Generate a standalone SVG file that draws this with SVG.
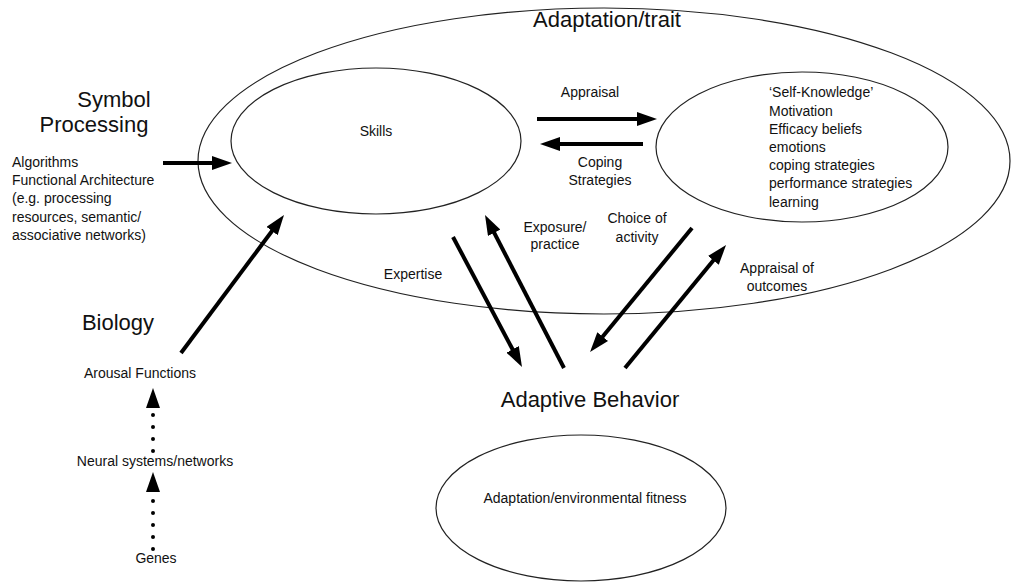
<svg xmlns="http://www.w3.org/2000/svg" width="1018" height="582" viewBox="0 0 1018 582">
<style>
text{font-family:"Liberation Sans",Arial,sans-serif;fill:#111}
.s{font-size:14px}
.l{font-size:22px}
.e{fill:none;stroke:#222;stroke-width:1.2}
.a{stroke:#000;stroke-width:4;fill:none}
.d{stroke:#000;stroke-width:4;fill:none;stroke-dasharray:0 12;stroke-linecap:round}
</style>
<defs>
<marker id="h" viewBox="0 0 20 14" refX="10" refY="7" markerWidth="20" markerHeight="14" markerUnits="userSpaceOnUse" orient="auto">
<path d="M0,0 L20,7 L0,14 Z" fill="#000"/>
</marker>
</defs>
<rect width="1018" height="582" fill="#fff"/>
<g id="adaptation-trait">
<ellipse class="e" cx="604" cy="161" rx="406" ry="153"/>
<text class="l" x="607" y="27" text-anchor="middle">Adaptation/trait</text>
</g>
<g id="skills">
<ellipse class="e" cx="376" cy="141" rx="145" ry="73"/>
<text class="s" x="376" y="136" text-anchor="middle">Skills</text>
</g>
<g id="self-knowledge">
<ellipse class="e" cx="802" cy="147" rx="146" ry="75"/>
<text class="s" x="769" y="97">‘Self-Knowledge’</text>
<text class="s" x="769" y="116">Motivation</text>
<text class="s" x="769" y="134">Efficacy beliefs</text>
<text class="s" x="769" y="152">emotions</text>
<text class="s" x="769" y="170">coping strategies</text>
<text class="s" x="769" y="188">performance strategies</text>
<text class="s" x="769" y="207">learning</text>
</g>
<g id="symbol-processing">
<text class="l" x="114" y="107" text-anchor="middle">Symbol</text>
<text class="l" x="94" y="132" text-anchor="middle">Processing</text>
<text class="s" x="12" y="167">Algorithms</text>
<text class="s" x="12" y="185">Functional Architecture</text>
<text class="s" x="12" y="203">(e.g. processing</text>
<text class="s" x="12" y="222">resources, semantic/</text>
<text class="s" x="12" y="240">associative networks)</text>
</g>
<g id="biology">
<text class="l" x="118" y="330" text-anchor="middle">Biology</text>
</g>
<g id="arousal">
<text class="s" x="140" y="378" text-anchor="middle">Arousal Functions</text>
</g>
<g id="neural">
<text class="s" x="155" y="466" text-anchor="middle">Neural systems/networks</text>
</g>
<g id="genes">
<text class="s" x="156" y="563" text-anchor="middle">Genes</text>
</g>
<g id="adaptive-behavior">
<text class="l" x="590" y="407" text-anchor="middle">Adaptive Behavior</text>
</g>
<g id="fitness">
<ellipse class="e" cx="581" cy="508" rx="145" ry="73"/>
<text class="s" x="585" y="503" text-anchor="middle">Adaptation/environmental fitness</text>
</g>
<g id="connectors">
<line class="a" x1="163" y1="163" x2="222" y2="163" marker-end="url(#h)"/>
<line class="a" x1="537" y1="119" x2="647" y2="119" marker-end="url(#h)"/>
<line class="a" x1="643" y1="144" x2="550" y2="144" marker-end="url(#h)"/>
<line class="a" x1="453" y1="237" x2="517.3" y2="358.2" marker-end="url(#h)"/>
<line class="a" x1="564" y1="368" x2="489.6" y2="223.9" marker-end="url(#h)"/>
<line class="a" x1="692" y1="228" x2="596.4" y2="344.3" marker-end="url(#h)"/>
<line class="a" x1="625" y1="368" x2="719.7" y2="252.7" marker-end="url(#h)"/>
<line class="a" x1="181" y1="353" x2="278" y2="223" marker-end="url(#h)"/>
<line class="d" x1="153" y1="451" x2="153" y2="398" marker-end="url(#h)"/>
<line class="d" x1="153" y1="549" x2="153" y2="482" marker-end="url(#h)"/>
<text class="s" x="590" y="97" text-anchor="middle">Appraisal</text>
<text class="s" x="600" y="167" text-anchor="middle">Coping</text>
<text class="s" x="600" y="185" text-anchor="middle">Strategies</text>
<text class="s" x="413" y="279" text-anchor="middle">Expertise</text>
<text class="s" x="555" y="232" text-anchor="middle">Exposure/</text>
<text class="s" x="555" y="249" text-anchor="middle">practice</text>
<text class="s" x="637" y="223" text-anchor="middle">Choice of</text>
<text class="s" x="637" y="242" text-anchor="middle">activity</text>
<text class="s" x="777" y="273" text-anchor="middle">Appraisal of</text>
<text class="s" x="777" y="291" text-anchor="middle">outcomes</text>
</g>
</svg>
